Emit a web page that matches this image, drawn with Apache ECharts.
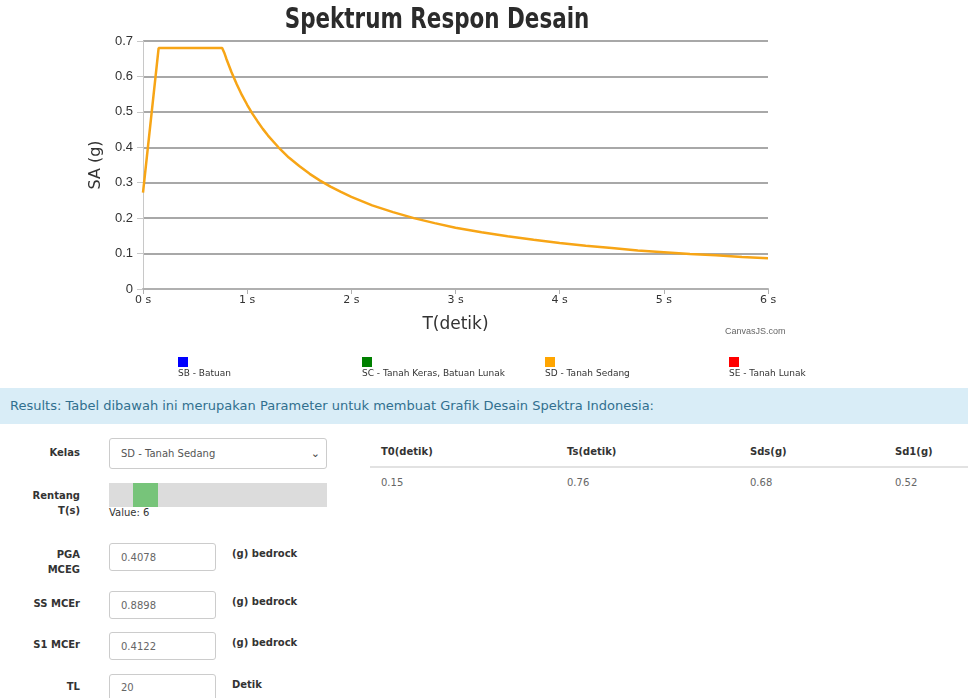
<!DOCTYPE html>
<html><head><meta charset="utf-8">
<script src="https://cdn.jsdelivr.net/npm/echarts@6/dist/echarts.min.js"></script>
<style>
body{margin:0;width:968px;height:698px;overflow:hidden;background:#fff;font-family:'DejaVu Sans',Verdana,sans-serif;position:relative}
#chart{position:absolute;left:0;top:0;width:968px;height:385px}
.abs{position:absolute;white-space:nowrap}
.leg{position:absolute;font-size:9px;color:#333}
.leg i{display:block;width:10px;height:10px;margin-bottom:1px}
.banner{position:absolute;left:0;top:388px;width:968px;height:36px;background:#d9edf7;color:#31708f;font-size:13px;line-height:36px;padding-left:10px;box-sizing:border-box}
.lbl{position:absolute;font-size:10px;font-weight:bold;color:#333;text-align:right;width:80px;line-height:15px}
.box{position:absolute;border:1px solid #ccc;border-radius:3px;box-sizing:border-box;font-size:10px;color:#666;padding-left:11px;background:#fff}
.unit{position:absolute;font-size:10px;font-weight:bold;color:#333}
.th{position:absolute;top:446px;font-size:10px;font-weight:bold;color:#333}
.td{position:absolute;top:477px;font-size:10px;color:#666}
</style></head>
<body>
<div id="chart"></div>

<div class="leg" style="left:178px;top:357px"><i style="background:#0000ff"></i>SB - Batuan</div>
<div class="leg" style="left:362px;top:357px"><i style="background:#008000"></i>SC - Tanah Keras, Batuan Lunak</div>
<div class="leg" style="left:545px;top:357px"><i style="background:#ffa500"></i>SD - Tanah Sedang</div>
<div class="leg" style="left:729px;top:357px"><i style="background:#ff0000"></i>SE - Tanah Lunak</div>

<div class="banner">Results: Tabel dibawah ini merupakan Parameter untuk membuat Grafik Desain Spektra Indonesia:</div>

<div class="lbl" style="left:0;top:445px">Kelas</div>
<div class="box" style="left:109px;top:438px;width:218px;height:31px;line-height:29px;color:#555">SD - Tanah Sedang<span style="position:absolute;right:6px;top:0;font-size:11px;color:#444">&#8964;</span></div>

<div class="lbl" style="left:0;top:488px">Rentang<br>T(s)</div>
<div class="abs" style="left:109px;top:483px;width:218px;height:24px;background:#dcdcdc"></div>
<div class="abs" style="left:133px;top:483px;width:25px;height:24px;background:#77c47a"></div>
<div class="abs" style="left:109px;top:507px;font-size:10px;color:#333">Value: 6</div>

<div class="lbl" style="left:0;top:547px">PGA<br>MCEG</div>
<div class="box" style="left:109px;top:543px;width:107px;height:28px;line-height:28px">0.4078</div>
<div class="unit" style="left:232px;top:548px">(g) bedrock</div>

<div class="lbl" style="left:0;top:596px">SS MCEr</div>
<div class="box" style="left:109px;top:591px;width:107px;height:28px;line-height:28px">0.8898</div>
<div class="unit" style="left:232px;top:596px">(g) bedrock</div>

<div class="lbl" style="left:0;top:637px">S1 MCEr</div>
<div class="box" style="left:109px;top:632px;width:107px;height:28px;line-height:28px">0.4122</div>
<div class="unit" style="left:232px;top:637px">(g) bedrock</div>

<div class="lbl" style="left:0;top:679px">TL</div>
<div class="box" style="left:109px;top:674px;width:107px;height:28px;line-height:26px">20</div>
<div class="unit" style="left:232px;top:679px">Detik</div>

<div class="th" style="left:381px">T0(detik)</div>
<div class="th" style="left:567px">Ts(detik)</div>
<div class="th" style="left:750px">Sds(g)</div>
<div class="th" style="left:895px">Sd1(g)</div>
<div class="abs" style="left:370px;top:466px;width:598px;height:2px;background:#e2e2e2"></div>
<div class="td" style="left:381px">0.15</div>
<div class="td" style="left:567px">0.76</div>
<div class="td" style="left:750px">0.68</div>
<div class="td" style="left:895px">0.52</div>

<script>
// Period T (s) and spectral acceleration SA (g)
var periods = [0, 0.15, 0.76, 0.78, 0.8, 0.85, 0.9, 0.95, 1.0, 1.05, 1.1, 1.15, 1.2, 1.3, 1.4, 1.5, 1.6, 1.7, 1.8, 1.9, 2.0, 2.2, 2.4, 2.6, 2.8, 3.0, 3.25, 3.5, 3.75, 4.0, 4.25, 4.5, 4.75, 5.0, 5.25, 5.5, 5.75, 6.0];
var saValues = [0.272, 0.68, 0.68, 0.667, 0.65, 0.612, 0.578, 0.547, 0.52, 0.495, 0.473, 0.452, 0.433, 0.40, 0.371, 0.347, 0.325, 0.306, 0.289, 0.274, 0.26, 0.236, 0.217, 0.20, 0.186, 0.173, 0.16, 0.149, 0.139, 0.13, 0.122, 0.116, 0.109, 0.104, 0.099, 0.095, 0.09, 0.087];
var seriesName = 'SD - Tanah Sedang';
var yTicks = [0, 0.1, 0.2, 0.3, 0.4, 0.5, 0.6, 0.7];
var xTicks = [0, 1, 2, 3, 4, 5, 6];
var titleText = 'Spektrum Respon Desain';

var data = periods.map(function (t, i) { return [t, saValues[i]]; });
var chart = echarts.init(document.getElementById('chart'), null, {renderer: 'canvas'});
chart.setOption({
  animation: false,
  grid: {left: 143, right: 200, top: 41, bottom: 96},
  xAxis: {
    type: 'value', min: xTicks[0], max: xTicks[xTicks.length - 1], interval: 1,
    name: 'T(detik)', nameLocation: 'middle', nameGap: 27,
    nameTextStyle: {fontSize: 17, color: '#333', fontFamily: 'DejaVu Sans'},
    axisLine: {lineStyle: {color: '#b0b0b0', width: 2}},
    axisTick: {show: true, length: 5, lineStyle: {color: '#b0b0b0'}},
    axisLabel: {formatter: '{value} s', fontSize: 11, color: '#333', fontFamily: 'DejaVu Sans', margin: 6},
    splitLine: {show: false}
  },
  yAxis: {
    type: 'value', min: yTicks[0], max: yTicks[yTicks.length - 1], interval: 0.1,
    name: 'SA (g)', nameLocation: 'middle', nameGap: 35, nameRotate: 90,
    nameTextStyle: {fontSize: 16, color: '#333', fontFamily: 'DejaVu Sans'},
    axisLine: {show: true, lineStyle: {color: '#c8c8c8', width: 1}},
    axisTick: {show: true, length: 6, lineStyle: {color: '#c8c8c8'}},
    axisLabel: {fontSize: 13, color: '#333', fontFamily: 'Liberation Sans', margin: 10,
      formatter: function (v) { return v === 0 ? '0' : v.toFixed(1); }},
    splitLine: {lineStyle: {color: '#a8a8a8', width: 2}}
  },
  graphic: [
    {type: 'text', x: 437, y: 20, scaleX: 0.74, scaleY: 1,
     style: {text: titleText, fontSize: 29, fontWeight: 'bold', fontFamily: 'DejaVu Sans', fill: '#2b2b2b', align: 'center', verticalAlign: 'middle'}},
    {type: 'text', left: 725, top: 327, style: {text: 'CanvasJS.com', fontSize: 9, fill: '#666', fontFamily: 'Liberation Sans'}}
  ],
  series: [{
    name: seriesName, type: 'line', data: data, smooth: false, showSymbol: false,
    lineStyle: {color: '#f7a516', width: 2.5}, itemStyle: {color: '#f7a516'}
  }]
});
</script>
</body></html>
